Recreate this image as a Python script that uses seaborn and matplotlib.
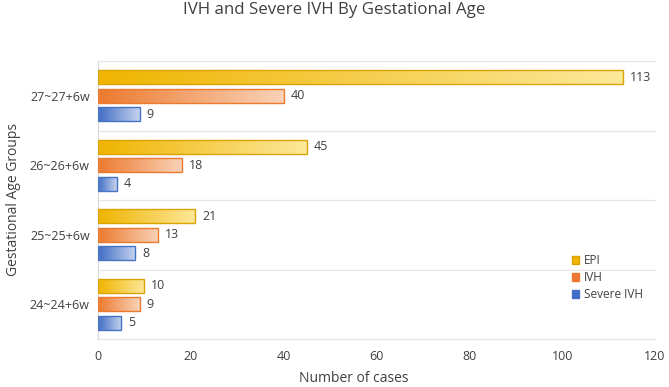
import numpy as np
import pandas as pd
import matplotlib
matplotlib.use("Agg")
import matplotlib.pyplot as plt
import seaborn as sns
from matplotlib.colors import LinearSegmentedColormap
from matplotlib.patches import Patch

categories = ["27~27+6w", "26~26+6w", "25~25+6w", "24~24+6w"]
epi = [113, 45, 21, 10]
ivh = [40, 18, 13, 9]
severe = [9, 4, 8, 5]
series = ["EPI", "IVH", "Severe IVH"]
xticks = [0, 20, 40, 60, 80, 100, 120]

df = pd.DataFrame({
    "group": categories * 3,
    "series": ["EPI"] * 4 + ["IVH"] * 4 + ["Severe IVH"] * 4,
    "value": epi + ivh + severe,
})

colors = {
    "EPI": ("#F0B400", "#FCE89A", "#D9A300"),
    "IVH": ("#EC7A2E", "#F9D2B8", "#EC7A2E"),
    "Severe IVH": ("#3F6CC4", "#C5D3EE", "#4472C4"),
}

sns.set_theme(style="white")
plt.rcParams["font.family"] = ["Open Sans", "DejaVu Sans"]

W, H = 669, 387
fig = plt.figure(figsize=(6.69, 3.87), dpi=100)
ax = fig.add_axes([98 / W, 1 - 339 / H, (655 - 98) / W, (339 - 61) / H])

sns.barplot(data=df, y="group", x="value", hue="series", order=categories,
            hue_order=series, orient="h", width=0.8, gap=0.25, ax=ax,
            palette={k: v[0] for k, v in colors.items()}, legend=False)

ax.set_xlim(0, 120)
ax.set_ylim(3.5, -0.5)

for cont, name in zip(ax.containers, series):
    c0, c1, ec = colors[name]
    cmap = LinearSegmentedColormap.from_list(name, [c0, c1])
    grad = np.linspace(0, 1, 256).reshape(1, -1)
    for bar, val in zip(cont, df[df.series == name]["value"]):
        x0, y0 = bar.get_x(), bar.get_y()
        w, h = bar.get_width(), bar.get_height()
        im = ax.imshow(grad, cmap=cmap, aspect="auto",
                       extent=[x0, x0 + w, y0 + h, y0], zorder=2)
        im.set_clip_path(bar)
        bar.set_facecolor("none")
        bar.set_edgecolor(ec)
        bar.set_linewidth(1.0)
        bar.set_zorder(3)
        ax.text(x0 + w + 1.5, y0 + h / 2, f"{val}", va="center", ha="left",
                fontsize=9, color="#404040")

ax.set_xlim(0, 120)
ax.set_ylim(3.5, -0.5)

for yb in [-0.5, 0.5, 1.5, 2.5, 3.5]:
    ax.axhline(yb, color="#E6E6E6", lw=0.9, zorder=0, clip_on=False)

for s in ["top", "right", "bottom"]:
    ax.spines[s].set_visible(False)
ax.spines["left"].set_color("#D9D9D9")
ax.spines["left"].set_linewidth(0.9)

ax.set_xticks(xticks)
ax.set_xticklabels([str(t) for t in xticks])
ax.tick_params(axis="both", length=0, labelsize=9, colors="#404040", pad=6)
ax.tick_params(axis="x", pad=8)
ax.set_xlabel("")
ax.set_ylabel("Gestational Age Groups", fontsize=10, color="#404040", labelpad=6)

fig.text(354 / W, 1 - 379 / H, "Number of cases", ha="center", va="center",
         fontsize=10, color="#404040")
fig.text(334 / W, 1 - 10 / H, "IVH and Severe IVH By Gestational Age",
         ha="center", va="center", fontsize=12.2, color="#404040")

handles = [Patch(facecolor=colors[n][0], edgecolor=colors[n][2]) for n in series]
ax.legend(handles, series, loc="upper left",
          bbox_to_anchor=((572 - 98) / 557, (339 - 254) / 278),
          frameon=False, fontsize=8.5, handlelength=0.6, handleheight=0.6,
          handletextpad=0.4, labelspacing=0.35, labelcolor="#404040",
          borderaxespad=0, borderpad=0)

fig.savefig("out.png", dpi=100)
